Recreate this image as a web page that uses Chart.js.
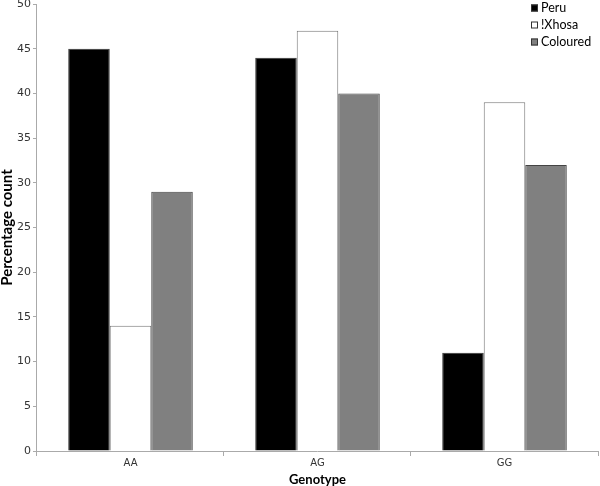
<!DOCTYPE html>
<html>
<head>
<meta charset="utf-8">
<script src="https://cdn.jsdelivr.net/npm/chart.js@4.4.0/dist/chart.umd.min.js"></script>
<style>
  html, body { margin: 0; padding: 0; background: #fff; }
</style>
</head>
<body>
<canvas id="chart" width="600" height="486"></canvas>
<script>
// data
var genotypes = ["AA", "AG", "GG"];
var peru = [45, 44, 11];
var xhosa = [14, 47, 39];
var coloured = [29, 40, 32];
var yMin = 0, yMax = 50, yStep = 5;

// legend drawn inside the plot, top right
var innerLegend = {
  id: "innerLegend",
  afterDraw: function(chart) {
    var ctx = chart.ctx;
    var x = 531, y = 8;
    ctx.save();
    ctx.font = "12.5px Lato";
    ctx.textBaseline = "middle";
    chart.data.datasets.forEach(function(ds, i) {
      var yy = y + i * 17;
      ctx.fillStyle = ds.backgroundColor;
      ctx.fillRect(x, yy - 3.5, 7, 7);
      ctx.strokeStyle = "#333";
      ctx.lineWidth = 1;
      ctx.strokeRect(x + 0.5, yy - 3, 6, 6);
      ctx.fillStyle = "#000";
      ctx.fillText(ds.label, x + 10, yy);
    });
    ctx.restore();
  }
};

var ctx = document.getElementById("chart");
var chart = new Chart(ctx, {
  type: "bar",
  data: {
    labels: genotypes,
    datasets: [
      { label: "Peru", data: peru, backgroundColor: "#000000", borderColor: "#333", borderWidth: 1 },
      { label: "!Xhosa", data: xhosa, backgroundColor: "#ffffff", borderColor: "#777", borderWidth: 1 },
      { label: "Coloured", data: coloured, backgroundColor: "#808080", borderColor: "#444", borderWidth: 1 }
    ]
  },
  options: {
    responsive: false,
    animation: false,
    layout: { padding: { left: 0, right: 2, top: 4, bottom: 0 } },
    datasets: { bar: { categoryPercentage: 0.666, barPercentage: 1 } },
    plugins: {
      legend: { display: false },
      tooltip: { enabled: false }
    },
    scales: {
      x: {
        grid: { drawOnChartArea: false, drawTicks: true, tickLength: 5, color: "#aaa", offset: true },
        border: { color: "#aaa" },
        ticks: { color: "#333", font: { family: "DejaVu Sans", size: 10 }, padding: 1 },
        title: { display: true, text: "Genotype", color: "#000", font: { family: "Lato", size: 13, weight: "bold", lineHeight: 1 }, padding: { top: 3, bottom: 0 } }
      },
      y: {
        min: yMin,
        max: yMax,
        afterFit: function(scale) { scale.paddingTop = 0; scale.paddingBottom = 0; },
        grid: { drawOnChartArea: false, drawTicks: true, tickLength: 4, color: "#aaa" },
        border: { color: "#aaa" },
        ticks: { stepSize: yStep, color: "#333", font: { family: "DejaVu Sans", size: 11 }, padding: 2 },
        title: { display: true, text: "Percentage count", color: "#000", font: { family: "Lato", size: 15, weight: "bold", lineHeight: 1 }, padding: { top: 0, bottom: 0 } }
      }
    }
  },
  plugins: [innerLegend]
});
</script>
</body>
</html>
